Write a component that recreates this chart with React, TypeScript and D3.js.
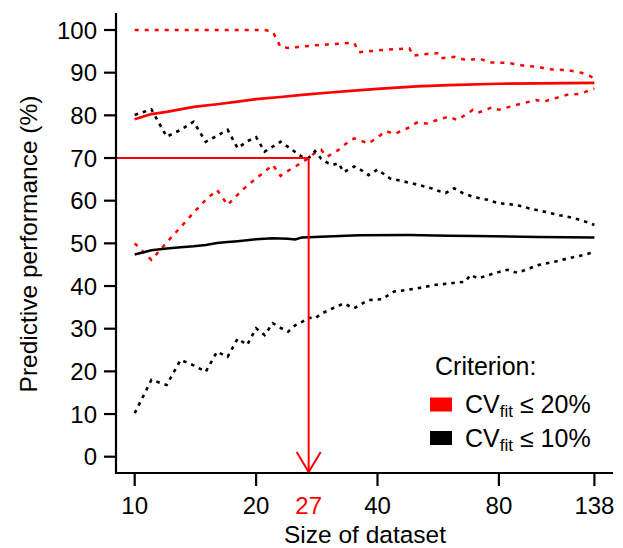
import React from "react";
import * as d3 from "d3";

// ---- data (size of dataset, predictive performance %) ----
const xTicks = [10, 20, 27, 40, 80, 138];
const yTicks = [0, 10, 20, 30, 40, 50, 60, 70, 80, 90, 100];
const targetN = 27;
const targetPerf = 70;

const redMid: [number, number][] = [
  [10, 79.1], [11, 80.3], [12, 80.8], [14, 82.0], [16, 82.6], [18, 83.2], [20, 83.8],
  [23, 84.3], [26, 84.8], [30, 85.3], [35, 85.8], [40, 86.2], [50, 86.8], [60, 87.1],
  [80, 87.4], [100, 87.5], [138, 87.6],
];
const redUpper: [number, number][] = [
  [10, 100], [21, 100], [22, 99.6], [23, 96.0], [24, 95.8], [26, 96.1], [28, 96.4],
  [30, 96.6], [32, 96.8], [35, 97.0], [36, 94.8], [40, 95.2], [44, 95.5], [48, 95.7],
  [49, 94.0], [53, 94.4], [57, 94.6], [58, 93.4], [62, 93.7], [66, 93.0], [72, 93.2],
  [76, 92.4], [84, 92.3], [93, 91.6], [100, 91.4], [106, 90.8], [118, 90.6],
  [128, 90.0], [134, 89.3], [138, 88.6],
];
const redLower: [number, number][] = [
  [10, 50.0], [11, 46.1], [12, 50.2], [13, 53.8], [14, 57.2], [15, 60.2], [16, 62.5],
  [17, 59.0], [18, 61.4], [19, 63.5], [20, 65.2], [21, 66.8], [22, 68.4], [23, 65.8],
  [24, 67.0], [25, 68.0], [26, 69.0], [27, 70.0], [28, 71.2], [29, 71.9], [30, 70.3],
  [32, 71.9], [33, 73.0], [35, 74.6], [38, 73.4], [42, 76.3], [44, 75.6], [48, 77.2],
  [50, 78.3], [53, 78.1], [57, 79.1], [60, 79.7], [63, 78.9], [67, 80.5], [69, 81.3],
  [71, 80.6], [77, 81.9], [80, 81.3], [88, 82.4], [99, 83.6], [103, 83.2], [118, 84.8],
  [126, 85.0], [131, 85.5], [138, 86.3],
];
const blackMid: [number, number][] = [
  [10, 47.4], [11, 48.4], [12, 48.8], [13, 49.1], [14, 49.3], [15, 49.6], [16, 50.1],
  [17, 50.3], [18, 50.5], [20, 50.95], [22, 51.2], [24, 51.1], [25, 50.9], [26, 51.4],
  [30, 51.6], [36, 51.9], [48, 51.95], [60, 51.8], [70, 51.7], [100, 51.5], [138, 51.4],
];
const blackUpper: [number, number][] = [
  [10, 80.1], [11, 81.4], [12, 75.0], [13, 76.6], [14, 78.5], [15, 73.8], [16, 75.2],
  [17, 76.6], [18, 72.3], [19, 73.9], [20, 74.9], [21, 71.5], [22, 72.7], [23, 73.8],
  [24, 72.6], [25, 71.4], [26, 70.3], [27, 70.0], [28, 71.6], [29, 69.8], [30, 68.9],
  [31, 68.4], [32, 68.8], [33, 66.7], [35, 68.0], [36, 67.5], [38, 66.0], [40, 67.3],
  [43, 65.2], [46, 64.6], [50, 63.8], [54, 63.0], [57, 62.2], [59, 61.8], [62, 62.9],
  [65, 61.8], [69, 60.9], [75, 60.2], [80, 59.4], [85, 59.2], [90, 58.8], [97, 58.0],
  [105, 57.3], [113, 56.6], [120, 56.1], [126, 55.6], [134, 54.8], [138, 54.3],
];
const blackLower: [number, number][] = [
  [10, 10.2], [11, 18.0], [12, 16.8], [13, 22.7], [14, 21.4], [15, 19.9], [16, 24.6],
  [17, 23.4], [18, 27.7], [19, 26.2], [20, 30.1], [21, 28.5], [22, 31.3], [23, 30.2],
  [24, 29.3], [25, 30.8], [26, 31.6], [27, 32.6], [28, 32.4], [29, 33.5], [31, 34.8],
  [33, 35.9], [35, 34.8], [38, 36.7], [41, 36.9], [44, 38.7], [50, 39.4], [55, 40.2],
  [60, 40.6], [66, 41.0], [68, 42.6], [71, 41.8], [78, 43.0], [84, 43.8], [89, 43.1],
  [100, 44.9], [110, 45.7], [120, 46.6], [130, 47.3], [138, 48.0],
];

const legendItems = [
  { color: "#ff0000", label: "20%" },
  { color: "#000000", label: "10%" },
];

const RED = "#ff0000";
const FONT = "'Liberation Sans', Arial, Helvetica, sans-serif";

export default function App() {
  const W = 623;
  const H = 548;
  const x = d3.scaleLog().domain([10, 138]).range([134.7, 594.4]);
  const y = d3.scaleLinear().domain([0, 100]).range([456.7, 30]);
  const line = d3
    .line<[number, number]>()
    .x((d) => x(d[0]))
    .y((d) => y(d[1]));

  const axisX = 116;
  const axisY = 473;
  const tx = x(targetN);
  const ty = y(targetPerf);

  return (
    <svg
      width={W}
      height={H}
      style={{ position: "absolute", left: 0, top: 0, background: "#fff" }}
      fontFamily={FONT}
    >
      <rect x={0} y={0} width={W} height={H} fill="#fff" />
      {/* series */}
      <path d={line(redUpper) || ""} fill="none" stroke={RED} strokeWidth={2.5} strokeDasharray="4 6" />
      <path d={line(redLower) || ""} fill="none" stroke={RED} strokeWidth={2.5} strokeDasharray="4 6" />
      <path d={line(blackUpper) || ""} fill="none" stroke="#000" strokeWidth={2.6} strokeDasharray="3.5 5" />
      <path d={line(blackLower) || ""} fill="none" stroke="#000" strokeWidth={2.6} strokeDasharray="3.5 5" />
      <path d={line(redMid) || ""} fill="none" stroke={RED} strokeWidth={2.7} />
      <path d={line(blackMid) || ""} fill="none" stroke="#000" strokeWidth={2.5} />

      {/* target guide */}
      <line x1={axisX} x2={tx} y1={ty} y2={ty} stroke={RED} strokeWidth={2} />
      <line x1={tx} x2={tx} y1={ty} y2={axisY - 1} stroke={RED} strokeWidth={2} />
      <polyline
        points={`${tx - 12},${axisY - 21} ${tx},${axisY - 1} ${tx + 12},${axisY - 21}`}
        fill="none"
        stroke={RED}
        strokeWidth={2}
      />

      {/* axes */}
      <line x1={axisX} x2={axisX} y1={13} y2={axisY + 1} stroke="#000" strokeWidth={2.2} />
      <line x1={axisX - 1} x2={613} y1={axisY} y2={axisY} stroke="#000" strokeWidth={2.2} />
      {yTicks.map((t) => (
        <g key={"y" + t}>
          <line x1={104} x2={axisX} y1={y(t)} y2={y(t)} stroke="#000" strokeWidth={2.2} />
          <text x={97} y={y(t) + 8.5} textAnchor="end" fontSize={24} fill="#000">
            {t}
          </text>
        </g>
      ))}
      {xTicks.map((t) => (
        <g key={"x" + t}>
          {t !== targetN && (
            <line x1={x(t)} x2={x(t)} y1={axisY} y2={486} stroke="#000" strokeWidth={2.2} />
          )}
          <text
            x={x(t)}
            y={514}
            textAnchor="middle"
            fontSize={24}
            fill={t === targetN ? RED : "#000"}
          >
            {t}
          </text>
        </g>
      ))}
      <text x={365} y={543} textAnchor="middle" fontSize={24.5} fill="#000">
        Size of dataset
      </text>
      <text
        transform="translate(37,244) rotate(-90)"
        textAnchor="middle"
        fontSize={24.5}
        fill="#000"
      >
        Predictive performance (%)
      </text>

      {/* legend */}
      <text x={435} y={375} fontSize={25} fill="#000">
        Criterion:
      </text>
      {legendItems.map((it, i) => (
        <g key={it.label} transform={`translate(0, ${i * 33.5})`}>
          <rect x={430} y={397.5} width={22} height={14} fill={it.color} />
          <text x={465} y={413} fontSize={25} fill="#000">
            CV
            <tspan fontSize={17} dy={4}>
              fit
            </tspan>
            <tspan dy={-4}> ≤ {it.label}</tspan>
          </text>
        </g>
      ))}
    </svg>
  );
}
